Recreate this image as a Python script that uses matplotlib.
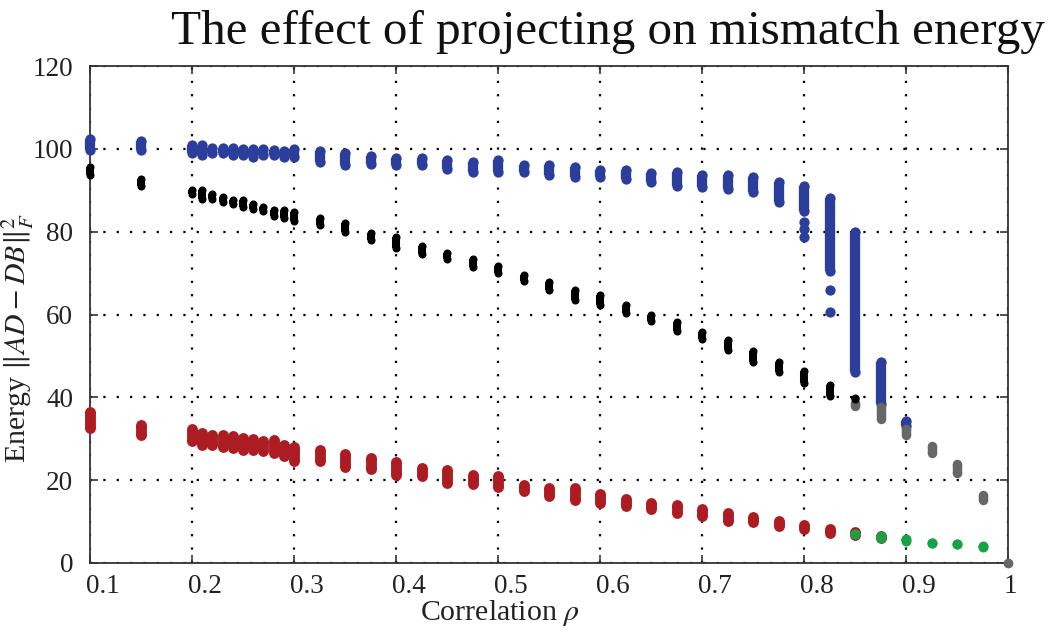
import matplotlib
matplotlib.use("Agg")
import matplotlib.pyplot as plt
import matplotlib.transforms as mtransforms

plt.rcParams['font.family'] = ['Liberation Serif', 'DejaVu Serif']
plt.rcParams['mathtext.fontset'] = 'stix'

# correlation values of the sample columns
rho = [0.1, 0.15, 0.2, 0.21, 0.22, 0.23, 0.24, 0.25, 0.26, 0.27, 0.28, 0.29, 0.3,
       0.325, 0.35, 0.375, 0.4, 0.425, 0.45, 0.475, 0.5, 0.525, 0.55, 0.575, 0.6,
       0.625, 0.65, 0.675, 0.7, 0.725, 0.75, 0.775, 0.8, 0.825, 0.85, 0.875, 0.9]

# blue: energy without projection (column top / bottom)
blue_hi = [102.3, 101.9, 100.9, 100.9, 100.3, 100.3, 100.3, 99.9, 99.9, 99.9, 99.7, 99.4, 99.9,
           99.5, 98.9, 98.3, 97.9, 97.9, 97.4, 96.9, 97.2, 96.1, 96.0, 95.6, 95.0,
           94.9, 94.2, 94.5, 93.8, 93.6, 93.3, 92.1, 91.0, 88.2, 79.9, 48.6, 34.2]
blue_lo = [99.7, 99.8, 99.1, 98.4, 99.1, 99.1, 98.6, 98.6, 98.1, 98.4, 98.4, 98.0, 98.1,
           96.8, 96.1, 96.4, 96.1, 96.1, 95.1, 94.4, 94.3, 94.4, 93.6, 93.2, 93.2,
           92.8, 92.0, 91.1, 90.8, 90.4, 89.6, 87.1, 85.1, 70.5, 46.1, 38.3, 33.0]
blue_out_x = [0.8, 0.8, 0.8, 0.825, 0.825]
blue_out_y = [82.3, 80.6, 78.6, 65.9, 60.7]

# black: projected energy
black_x = rho[:35]
black_hi = [95.6, 92.8, 90.0, 90.0, 89.0, 88.4, 87.7, 87.6, 86.8, 86.0, 85.3, 85.2, 84.8,
            83.2, 82.1, 79.7, 78.7, 76.5, 74.9, 73.3, 71.6, 69.5, 67.9, 65.8, 64.6,
            62.2, 60.0, 58.2, 55.8, 53.9, 51.3, 48.5, 46.4, 42.9, 39.8]
black_lo = [93.8, 91.0, 89.0, 87.8, 87.8, 87.1, 86.6, 86.0, 85.4, 85.0, 83.9, 83.3, 82.5,
            81.5, 79.9, 77.9, 76.1, 74.6, 73.4, 71.5, 70.1, 68.2, 66.0, 63.5, 62.4,
            60.4, 58.4, 56.0, 54.0, 51.4, 48.5, 46.1, 43.5, 40.3, 39.6]

# gray: high correlation end of the projected energy
gray_x = [0.85, 0.875, 0.9, 0.925, 0.95, 0.975, 1.0]
gray_hi = [38.6, 37.6, 32.3, 28.2, 23.8, 16.3, 0.0]
gray_lo = [38.0, 34.8, 30.8, 26.6, 21.8, 15.1, 0.0]

# red: lower energy
red_x = rho[:36]
red_hi = [36.5, 33.2, 32.4, 31.4, 31.0, 30.8, 30.7, 30.2, 30.0, 29.4, 29.6, 28.4, 28.0,
          27.4, 26.4, 25.3, 24.4, 23.0, 22.5, 21.3, 20.9, 18.9, 18.1, 18.0, 16.7,
          15.5, 14.6, 14.1, 13.0, 12.1, 11.1, 10.1, 9.1, 8.1, 7.5, 6.5]
red_lo = [32.6, 30.8, 29.4, 28.6, 28.4, 27.9, 27.8, 27.4, 27.4, 27.0, 26.6, 25.8, 24.7,
          24.6, 23.1, 22.6, 21.3, 20.9, 19.3, 19.1, 18.3, 17.3, 16.1, 15.3, 14.5,
          13.7, 13.1, 12.1, 11.3, 10.1, 9.9, 8.9, 8.1, 7.3, 6.7, 6.1]

# green
green_x = [0.85, 0.875, 0.9, 0.925, 0.95, 0.975]
green_hi = [7.0, 6.5, 5.9, 4.9, 4.5, 4.0]
green_lo = [7.0, 6.0, 5.3, 4.8, 4.5, 3.8]

xticks = [0.1, 0.2, 0.3, 0.4, 0.5, 0.6, 0.7, 0.8, 0.9, 1.0]
xtick_labels = ['0.1', '0.2', '0.3', '0.4', '0.5', '0.6', '0.7', '0.8', '0.9', '1']
yticks = [0, 20, 40, 60, 80, 100, 120]


def draw_columns(ax, xs, lo, hi, color, width, z):
    # each column of samples is drawn as a rounded vertical band
    ax.vlines(xs, lo, hi, colors=color, linewidth=width, zorder=z, clip_on=False)
    ax.scatter(xs, lo, s=width ** 2, color=color, linewidths=0, zorder=z, clip_on=False)
    ax.scatter(xs, hi, s=width ** 2, color=color, linewidths=0, zorder=z, clip_on=False)


fig = plt.figure(figsize=(10.5, 6.3), dpi=100)
ax = fig.add_axes([90 / 1050, 1 - 563 / 630, (1008 - 90) / 1050, (563 - 66) / 630])

blue = '#2c3e9c'
draw_columns(ax, rho, blue_lo, blue_hi, blue, 7.4, 3)
ax.scatter(blue_out_x, blue_out_y, s=7.4 ** 2, color=blue, linewidths=0, zorder=3)
draw_columns(ax, gray_x, gray_lo, gray_hi, '#676767', 6.8, 4)
draw_columns(ax, black_x, black_lo, black_hi, 'black', 5.8, 5)
draw_columns(ax, red_x, red_lo, red_hi, '#ad1c22', 7.8, 6)
draw_columns(ax, green_x, green_lo, green_hi, '#16a346', 7.2, 7)

ax.set_xlim(0.1, 1.0)
ax.set_ylim(0, 120)
ax.set_xticks(xticks)
ax.set_xticklabels(xtick_labels)
ax.set_yticks(yticks)
ax.set_axisbelow(True)
ax.grid(True, color='black', linestyle=(0, (1, 5)), linewidth=1.6)

for sp in ax.spines.values():
    sp.set_color('#333333')
    sp.set_linewidth(1.3)
ax.tick_params(direction='in', top=True, right=True, length=6, width=1.2,
               colors='#333333', labelcolor='#222222', labelsize=19.5)
ax.tick_params(axis='x', pad=8)
ax.tick_params(axis='y', pad=12)

shift = mtransforms.ScaledTranslation(-4 / 100, 0, fig.dpi_scale_trans)
for lab in ax.get_xticklabels():
    lab.set_horizontalalignment('left')
    lab.set_transform(lab.get_transform() + shift)

fig.text(500 / 1050, 1 - 613 / 630, r'Correlation $\rho$', fontsize=21.5,
         ha='center', va='center', color='#222222')
fig.text(18 / 1050, 1 - 338 / 630, r'Energy $\|AD-DB\|_F^2$', fontsize=21.5,
         rotation=90, ha='center', va='center', color='#222222')
fig.text(1045 / 1050, 1 - 44 / 630, 'The effect of projecting on mismatch energy',
         fontsize=35.4, ha='right', va='baseline', color='#111111')

fig.savefig('out.png', dpi=100)
